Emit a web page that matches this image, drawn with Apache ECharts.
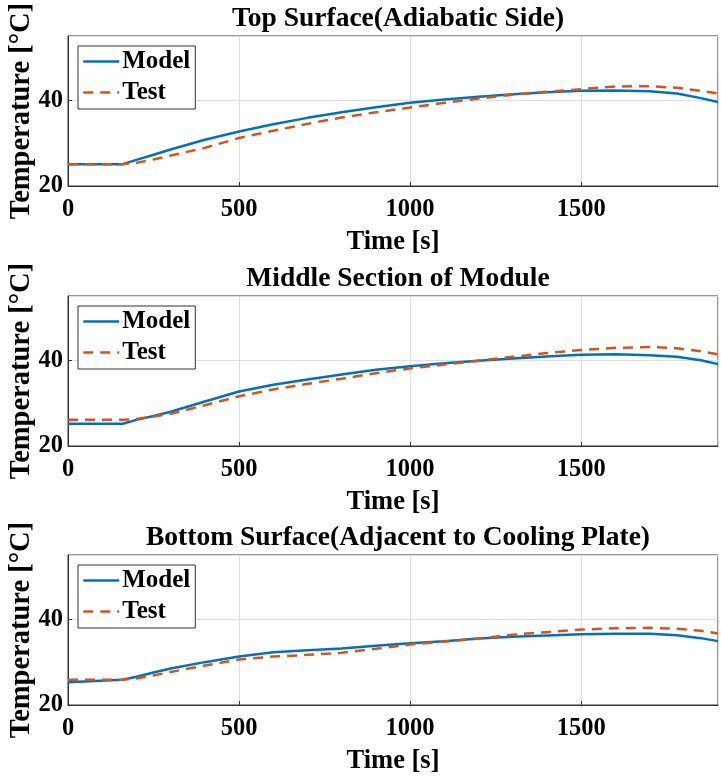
<!DOCTYPE html>
<html>
<head>
<meta charset="utf-8">
<script src="https://cdn.jsdelivr.net/npm/echarts@6/dist/echarts.min.js"></script>
<style>
html,body{margin:0;padding:0;background:#fff;}
#chart{width:721px;height:777px;}
</style>
</head>
<body>
<div id="chart"></div>
<script>
// ---- data ----
var time = [0, 160, 200, 250, 300, 400, 500, 600, 700, 800, 900, 1000, 1100, 1200, 1300, 1400, 1500, 1600, 1700, 1780, 1850, 1900];

var titles = ['Top Surface(Adiabatic Side)', 'Middle Section of Module', 'Bottom Surface(Adjacent to Cooling Plate)'];
var seriesNames = ['Model', 'Test'];

var topModel = [25.1, 25.1, 26.1, 27.3, 28.5, 30.8, 32.7, 34.4, 35.9, 37.2, 38.4, 39.4, 40.2, 40.8, 41.4, 41.9, 42.2, 42.3, 42.1, 41.6, 40.5, 39.6];
var topTest  = [25.1, 25.1, 25.4, 26.2, 27.1, 28.9, 31.2, 32.9, 34.5, 36.0, 37.2, 38.3, 39.4, 40.4, 41.3, 42.0, 42.6, 43.2, 43.3, 42.9, 42.2, 41.6];

var midModel = [25.2, 25.2, 26.1, 27.0, 28.0, 30.4, 32.7, 34.3, 35.5, 36.7, 37.8, 38.6, 39.3, 39.9, 40.4, 40.9, 41.3, 41.4, 41.2, 40.8, 40.0, 39.1];
var midTest  = [26.1, 26.1, 26.3, 26.9, 27.5, 29.5, 31.6, 33.2, 34.5, 35.7, 37.0, 38.1, 39.0, 39.9, 40.8, 41.7, 42.4, 42.9, 43.1, 42.8, 42.1, 41.4];

var botModel = [25.3, 25.9, 26.6, 27.6, 28.5, 30.0, 31.3, 32.3, 32.8, 33.2, 33.8, 34.4, 34.9, 35.5, 35.9, 36.2, 36.5, 36.6, 36.6, 36.3, 35.6, 34.9];
var botTest  = [25.9, 25.9, 26.2, 26.9, 27.7, 29.2, 30.6, 31.3, 31.7, 32.2, 33.1, 34.1, 34.8, 35.5, 36.4, 37.0, 37.6, 37.9, 38.0, 37.8, 37.3, 36.7];

var xMin = 0, xMax = 1900, xInterval = 500;
var yMin = 20, yMax = 55, yInterval = 20;
var xName = 'Time [s]';
var yName = 'Temperature [\u00B0C]';

// ---- chart ----
var FONT = '"Liberation Serif","Times New Roman",serif';
var BLUE = '#0072BD', ORANGE = '#D95319';
var gridTops = [36, 296, 555];
var gridH = 150;
var panels = [[topModel, topTest], [midModel, midTest], [botModel, botTest]];

function pairs(xs, ys) { return xs.map(function (x, i) { return [x, ys[i]]; }); }

var option = {
  backgroundColor: '#fff',
  animation: false,
  title: [], grid: [], xAxis: [], yAxis: [], series: [], legend: []
};

gridTops.forEach(function (top, k) {
  option.title.push({
    text: titles[k],
    left: 393, top: top - 36, textAlign: 'center',
    textStyle: { fontFamily: FONT, fontWeight: 'bold', fontSize: 27.5, color: '#000' }
  });
  option.grid.push({
    left: 68, right: 3, top: top, height: gridH,
    outerBoundsMode: 'none', containLabel: false,
    show: true, borderColor: '#333', borderWidth: 1, backgroundColor: 'transparent'
  });
  option.xAxis.push({
    type: 'value', gridIndex: k, min: xMin, max: xMax, interval: xInterval,
    name: xName, nameLocation: 'middle', nameGap: 43, nameMoveOverlap: false,
    nameTextStyle: { fontFamily: FONT, fontWeight: 'bold', fontSize: 26.5, color: '#000' },
    axisLine: { show: true, onZero: false, lineStyle: { color: '#333', width: 1 } },
    axisTick: { show: true, inside: true, length: 4, lineStyle: { color: '#333' } },
    axisLabel: { fontFamily: FONT, fontWeight: 'bold', fontSize: 24.5, color: '#000', margin: 11, showMaxLabel: false,
                 formatter: function (v) { return String(v); } },
    splitLine: { show: true, lineStyle: { color: '#dedede', width: 1 } }
  });
  option.yAxis.push({
    type: 'value', gridIndex: k, min: yMin, max: yMax, interval: yInterval,
    name: yName, nameLocation: 'middle', nameGap: 32, nameMoveOverlap: false,
    nameTextStyle: { fontFamily: FONT, fontWeight: 'bold', fontSize: 28.5, color: '#000' },
    axisLine: { show: true, onZero: false, lineStyle: { color: '#333', width: 1 } },
    axisTick: { show: true, inside: true, length: 4, lineStyle: { color: '#333' } },
    axisLabel: { fontFamily: FONT, fontWeight: 'bold', fontSize: 24.5, color: '#000', margin: 5, showMaxLabel: false,
                 formatter: function (v) { return String(v); } },
    splitLine: { show: true, lineStyle: { color: '#dedede', width: 1 } }
  });
  option.series.push({
    name: seriesNames[0], type: 'line', xAxisIndex: k, yAxisIndex: k,
    data: pairs(time, panels[k][0]), showSymbol: false, symbol: 'none', smooth: false,
    lineStyle: { color: BLUE, width: 2.5, type: 'solid' }, itemStyle: { color: BLUE }, z: 3
  });
  option.series.push({
    name: seriesNames[1], type: 'line', xAxisIndex: k, yAxisIndex: k,
    data: pairs(time, panels[k][1]), showSymbol: false, symbol: 'none', smooth: false,
    lineStyle: { color: ORANGE, width: 2.5, type: [10, 7] }, itemStyle: { color: ORANGE }, z: 4
  });
  option.legend.push({
    data: seriesNames, orient: 'vertical', left: 78, top: top + 10,
    itemWidth: 36, itemHeight: 14, itemGap: 6,
    padding: [3, 5, 4, 4],
    borderColor: '#333', borderWidth: 1, backgroundColor: '#fff',
    selectedMode: false,
    itemStyle: { opacity: 0 },
    lineStyle: { width: 2.5 },
    textStyle: { fontFamily: FONT, fontWeight: 'bold', fontSize: 25, color: '#000', padding: [0, 0, 0, -2] }
  });
});

var chart = echarts.init(document.getElementById('chart'), null, { renderer: 'canvas' });
chart.setOption(option);
</script>
</body>
</html>
